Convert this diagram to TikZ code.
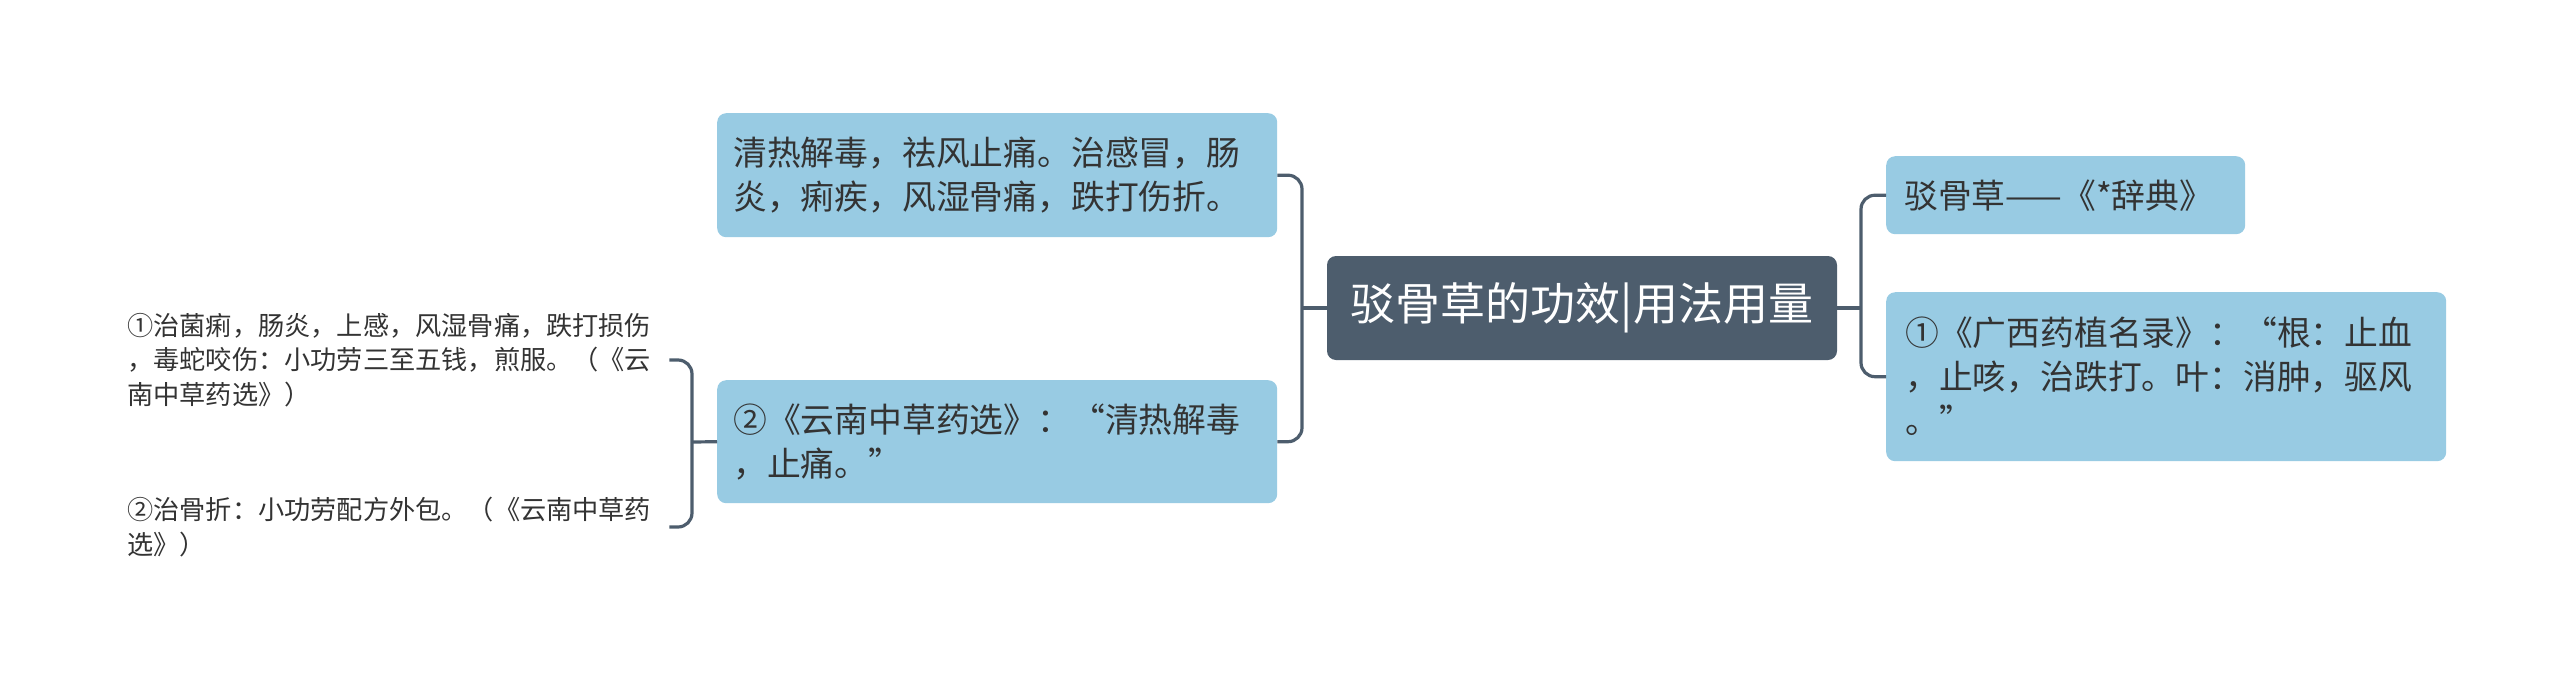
\documentclass[tikz,border=0pt]{standalone}
\usepackage{fontspec}
\setmainfont{Noto Sans CJK SC}
\usetikzlibrary{calc}
\definecolor{boxblue}{HTML}{98CBE3}
\definecolor{slate}{HTML}{4D5D6D}
\definecolor{txt}{HTML}{333333}
\begin{document}
\begin{tikzpicture}[x=1pt,y=-1pt,
  box/.style={fill=boxblue, rounded corners=9pt, align=left, text=txt,
    font=\fontsize{33.8}{44}\selectfont, inner ysep=0pt, anchor=north west},
  conn/.style={draw=slate, line width=3.2pt, rounded corners=14pt},
  leaf/.style={align=left, text=txt, font=\fontsize{26.2}{34.5}\selectfont,
    inner sep=0pt, anchor=west, text width=542pt}]
\useasboundingbox (0,0) rectangle (2560,686);
\node[fill=slate, rounded corners=9pt, minimum width=510pt, minimum height=104pt,
  text=white, font=\fontsize{45}{52}\selectfont, inner sep=0pt] (C) at (1582,308) {驳骨草的功效|用法用量};
\node[box, text width=528pt, inner xsep=16pt, minimum height=124pt] (L1) at (717,113)
  {清热解毒，祛风止痛。治感冒，肠\\炎，痢疾，风湿骨痛，跌打伤折。};
\node[box, text width=528pt, inner xsep=16pt, minimum height=123pt] (L2) at (717,380)
  {②《云南中草药选》：“清热解毒\\，止痛。”};
\node[box, text width=323pt, inner xsep=18pt, minimum height=78pt] (R1) at (1886,156)
  {驳骨草——《*辞典》};
\node[box, text width=522pt, inner xsep=19pt, minimum height=169pt] (R2) at (1886,292)
  {①《广西药植名录》：“根：止血\\，止咳，治跌打。叶：消肿，驱风\\。”};
\node[leaf] (P1) at (127,360) {①治菌痢，肠炎，上感，风湿骨痛，跌打损伤\\，毒蛇咬伤：小功劳三至五钱，煎服。（《云\\南中草药选》）};
\node[leaf] (P2) at (127,527) {②治骨折：小功劳配方外包。（《云南中草药\\选》）};
\coordinate (jL) at (1302,308);
\coordinate (jR) at (1861,308);
\coordinate (jB) at (692,442);
\draw[conn] (C.west) -- (jL);
\draw[conn] (L1.east) -- (L1.east -| jL) -- (L2.east -| jL) -- (L2.east);
\draw[conn] (C.east) -- (jR);
\draw[conn] (R1.west) -- (R1.west -| jR) -- (R2.west -| jR) -- (R2.west);
\draw[conn] (L2.west) -- (jB);
\draw[conn] (P1.east) -- (P1.east -| jB) -- (P2.east -| jB) -- (P2.east);
\end{tikzpicture}
\end{document}
